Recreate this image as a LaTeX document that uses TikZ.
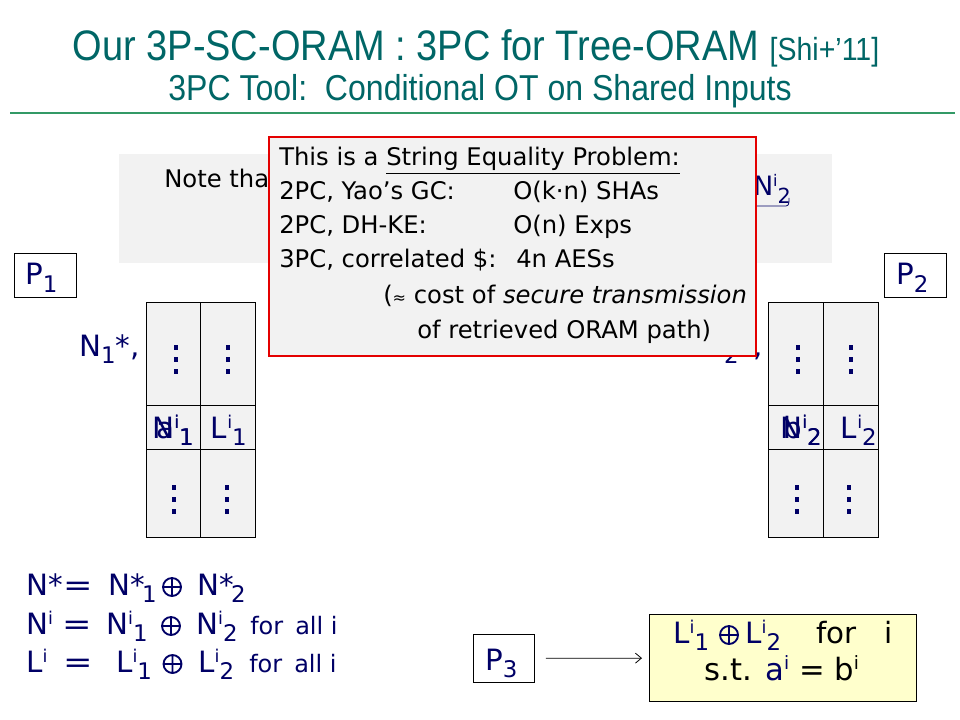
\documentclass[tikz,border=0pt]{standalone}
\usepackage{fontspec}
\usepackage{graphicx}
\setmainfont{DejaVu Sans}
\newfontfamily\titlefont[FakeStretch=0.89]{Liberation Sans}
\usetikzlibrary{arrows.meta}
\definecolor{navy}{RGB}{0,0,102}
\definecolor{titleteal}{RGB}{0,102,102}
\definecolor{rulegreen}{RGB}{51,153,102}
\definecolor{boxgray}{RGB}{242,242,242}
\definecolor{pyellow}{RGB}{255,255,204}
\definecolor{boxred}{RGB}{228,0,0}
\newcommand\up[1]{\raisebox{0.34em}{\scalebox{0.6}{#1}}}
\newcommand\dn[1]{\raisebox{-0.27em}{\scalebox{0.78}{#1}}}
\newcommand\eqsign{\scalebox{1.2}[1]{=}}
\newcommand\bigf{\fontsize{22}{26}\selectfont}
\newcommand\redf{\fontsize{18.2}{22}\selectfont}
\newcommand\smallf{\fontsize{18}{21}\selectfont}
\begin{document}
\begin{tikzpicture}[x=0.75pt,y=-0.75pt,
  txt/.style={inner sep=0pt, anchor=base west},
  ctxt/.style={inner sep=0pt, anchor=base},
  etxt/.style={inner sep=0pt, anchor=base east},
  eqt/.style={txt, font=\bigf, text=navy},
  eqc/.style={ctxt, font=\bigf, text=navy},
  forall/.style={txt, font=\smallf, text=navy},
  pbox/.style={draw=black, line width=0.6pt, fill=white, anchor=north west, inner sep=0pt,
    minimum width=62*0.75pt, minimum height=44*0.75pt},
  cell/.style={draw=black, line width=0.6pt, fill=boxgray},
  dotsq/.style={fill=navy, draw=none},
  redline/.style={txt, font=\redf, text=black},
  oplussym/.pic={\draw[navy, line width=1.4pt] (0,0) circle[radius=9*0.75pt]
      (-9,0) -- (9,0) (0,-9) -- (0,9);}]
\useasboundingbox (0,0) rectangle (960,720);

% title
\node[ctxt, text=titleteal, font=\titlefont\fontsize{32}{36}\selectfont] (title) at (476,61)
  {Our 3P-SC-ORAM : 3PC for Tree-ORAM {\fontsize{24}{28}\selectfont [Shi+’11]}};
\node[ctxt, text=titleteal, font=\titlefont\fontsize{27}{30}\selectfont] (subtitle) at (480,101)
  {3PC Tool:\ \ Conditional OT on Shared Inputs};
\coordinate (rl) at (10,113);
\coordinate (rr) at (955,113);
\draw[rulegreen, line width=1.2pt] (rl) -- (rr);

% gray note box
\node[fill=boxgray, anchor=north west, inner sep=0pt, minimum width=713*0.75pt, minimum height=109*0.75pt] (graybox) at (119,154) {};
\node[txt, font=\redf] (note) at (164,188) {Note that};
\node[txt, font=\fontsize{20}{24}\selectfont, text=navy] (ni2) at (753,196) {N\up{i}\dn{2}};
\coordinate (ul1) at (755,206);
\coordinate (ul2) at (786,206);
\draw[navy, line width=0.6pt] (ul1) -- (ul2) to[out=0,in=-90] ++(3,-8);

% P boxes
\node[pbox] (p1) at (14,253) {};
\node[txt, font=\bigf, text=navy] (p1t) at (25,285) {P\dn{1}};
\node[pbox] (p2) at (884,253) {};
\node[txt, font=\bigf, text=navy] (p2t) at (896,285) {P\dn{2}};

% left table
\draw[cell] (146,302) rectangle (200,405);
\draw[cell] (200,302) rectangle (255,405);
\draw[cell] (146,405) rectangle (200,449);
\draw[cell] (200,405) rectangle (255,449);
\draw[cell] (146,449) rectangle (200,537);
\draw[cell] (200,449) rectangle (255,537);
% right table
\draw[cell] (768,302) rectangle (823,405);
\draw[cell] (823,302) rectangle (878,405);
\draw[cell] (768,405) rectangle (823,449);
\draw[cell] (823,405) rectangle (878,449);
\draw[cell] (768,449) rectangle (823,537);
\draw[cell] (823,449) rectangle (878,537);

% vertical dots
\foreach \x/\yy in {175.7/347.7, 175.7/359.5, 175.7/371.5, 228/347.7, 228/359.5, 228/371.5,
                    174/487, 174/499, 174/511, 227/487, 227/499, 227/511,
                    797.7/347.7, 797.7/359.5, 797.7/371.5, 850.7/347.7, 850.7/359.5, 850.7/371.5,
                    796.7/487, 796.7/499, 796.7/511, 849/487, 849/499, 849/511}
  \fill[dotsq] (\x-2.2,\yy-2.5) rectangle (\x+2.2,\yy+2.5);

% cell labels (N and a, N and b are printed on top of each other)
\node[etxt, font=\bigf, text=navy] (n1) at (194,438) {N\up{i}\dn{1}};
\node[etxt, font=\bigf, text=navy] (a1) at (194,438) {a\up{i}\dn{1}};
\node[etxt, font=\bigf, text=navy] (l1) at (247,438) {L\up{i}\dn{1}};
\node[etxt, font=\bigf, text=navy] (n2) at (822,438) {N\up{i}\dn{2}};
\node[etxt, font=\bigf, text=navy] (b2) at (822,438) {b\up{i}\dn{2}};
\node[etxt, font=\bigf, text=navy] (l2) at (877,438) {L\up{i}\dn{2}};

\node[txt, font=\bigf, text=navy] (n1s) at (79,356) {N\dn{1}*,};
\node[txt, font=\bigf, text=navy] (n2s) at (702,356) {N\dn{2}*,};

% red popup box
\node[draw=boxred, line width=1.5pt, fill=boxgray, anchor=north west, inner sep=0pt,
  minimum width=487*0.75pt, minimum height=219*0.75pt] (redbox) at (268,136) {};
\node[redline] (r1) at (279,166) {This is a \underline{String Equality Problem:}};
\node[redline] (r2) at (279,200) {2PC, Yao’s GC:};
\node[redline] (r2b) at (513,200) {O(k·n) SHAs};
\node[redline] (r3) at (279,234) {2PC, DH-KE:};
\node[redline] (r3b) at (513,234) {O(n) Exps};
\node[redline] (r4) at (279,268) {3PC, correlated \$:};
\node[redline] (r4b) at (516,268) {4n AESs};
\node[redline] (r5) at (383,303) {({\fontsize{12}{14}\selectfont ≈} cost of \textit{secure transmission}};
\node[redline] (r6) at (417,338) {of retrieved ORAM path)};

% equations
\node[eqt] (e1a) at (26,595) {N*};
\node[eqc] (e1b) at (78,595) {\eqsign};
\node[eqt] (e1c) at (108,595) {N*\kern-2pt\dn{1}};
\pic at (172,587) {oplussym};
\node[eqt] (e1e) at (197,595) {N*\kern-2pt\dn{2}};

\node[eqt] (e2a) at (26,634) {N\up{i}};
\node[eqc] (e2b) at (77,634) {\eqsign};
\node[eqt] (e2c) at (106,634) {N\up{i}\dn{1}};
\pic at (171,626) {oplussym};
\node[eqt] (e2e) at (196,634) {N\up{i}\dn{2}};
\node[forall] (e2f) at (250,634) {for\hspace{9pt}all i};

\node[eqt] (e3a) at (26,672) {L\up{i}};
\node[eqc] (e3b) at (78,672) {\eqsign};
\node[eqt] (e3c) at (116,672) {L\up{i}\dn{1}};
\pic at (172.5,664) {oplussym};
\node[eqt] (e3e) at (198,672) {L\up{i}\dn{2}};
\node[forall] (e3f) at (249,672) {for\hspace{9pt}all i};

% P3 and result
\node[draw=black, line width=0.6pt, anchor=north west, inner sep=0pt,
  minimum width=61*0.75pt, minimum height=48*0.75pt] (p3) at (473,634) {};
\node[txt, font=\bigf, text=navy] (p3t) at (485,670) {P\dn{3}};
\node[draw=black, line width=0.6pt, fill=pyellow, anchor=north west, inner sep=0pt,
  minimum width=267*0.75pt, minimum height=87*0.75pt] (yel) at (649,614) {};
\node[eqt] (y1a) at (673,643) {L\up{i}\dn{1}};
\pic at (729,635) {oplussym};
\node[eqt] (y1c) at (745,643) {L\up{i}\dn{2}};
\node[txt, font=\bigf] (y1d) at (816,643) {for\ \ \ i};
\node[ctxt, font=\fontsize{23}{27}\selectfont] (y2) at (782,680) {s.t. \textcolor{navy}{a\up{i}} = b\up{i}};
\draw[-{Straight Barb[length=4.5pt,width=7.5pt]}, line width=0.6pt, shorten <=8.25pt, shorten >=5.25pt] (p3) -- (yel);
\end{tikzpicture}
\end{document}
